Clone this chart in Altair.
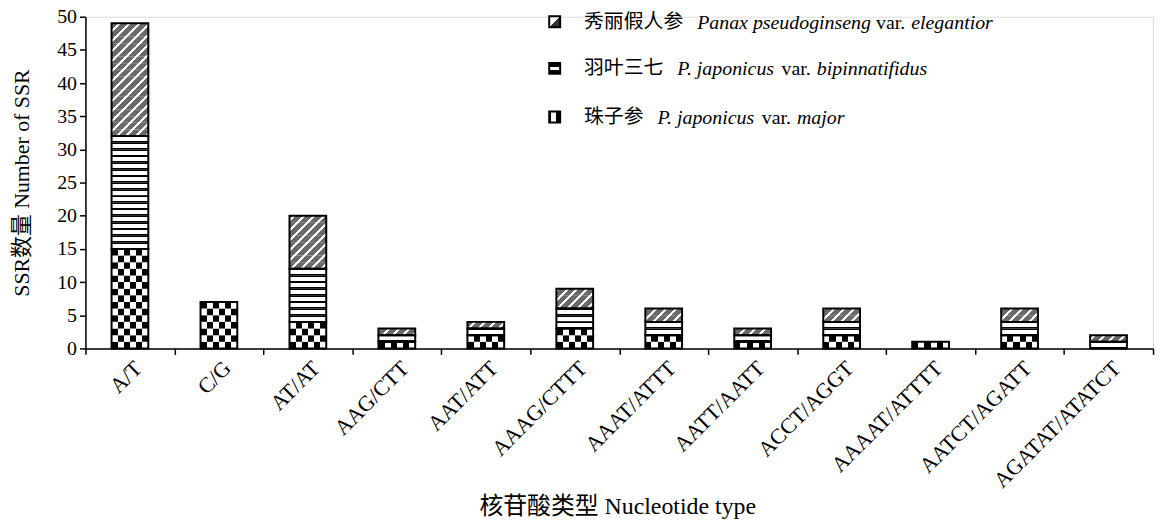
import altair as alt
import pandas as pd

# ---------------- data ----------------
categories = ["A/T", "C/G", "AT/AT", "AAG/CTT", "AAT/ATT", "AAAG/CTTT", "AAAT/ATTT",
              "AATT/AATT", "ACCT/AGGT", "AAAAT/ATTTT", "AATCT/AGATT", "AGATAT/ATATCT"]
zhuzishen = [15, 7, 4, 1, 2, 3, 2, 1, 2, 1, 2, 0]      # 珠子参 (bottom)
yuyesanqi = [17, 0, 8, 1, 1, 3, 2, 1, 2, 0, 2, 1]      # 羽叶三七 (middle)
xiulijiarenshen = [17, 0, 8, 1, 1, 3, 2, 1, 2, 0, 2, 1]  # 秀丽假人参 (top)
series_values = [zhuzishen, yuyesanqi, xiulijiarenshen]

# ---------------- layout constants ----------------
W, H = 1075, 334
YMAX = 50
BAND_FRAC = 0.413
FONT = "Liberation Serif, Noto Sans CJK SC"
CJK = "Noto Sans CJK SC"
GRAY = "#6a6a6a"

bar_w = BAND_FRAC * W / len(categories)
unit_h = H / YMAX

# ---------------- tables ----------------
seg_rows, unit_rows = [], []
for ci, cat in enumerate(categories):
    base = 0
    for si, vals in enumerate(series_values):
        v = vals[ci]
        if v > 0:
            seg_rows.append({"cat": cat, "s": si, "y0": base, "y1": base + v})
            for k in range(base, base + v):
                unit_rows.append({"cat": cat, "s": si, "y0": k, "y1": k + 1,
                                  "p2": k % 2, "p3": k % 3})
        base += v
seg_df = pd.DataFrame(seg_rows)
unit_df = pd.DataFrame(unit_rows)


# ---------------- pattern gradients ----------------
def stops_from(intervals):
    st = []
    for a, b, c in intervals:
        st.append({"offset": a, "color": c})
        st.append({"offset": b, "color": c})
    return st


def checker(par):
    n = 6
    iv = []
    for i in range(n):
        c = "#000000" if (i + par) % 2 == 0 else "#ffffff"
        iv.append((i / n, (i + 1) / n, c))
    return {"gradient": "linear", "x1": 0, "y1": 0, "x2": 1, "y2": 0, "stops": stops_from(iv)}


stripe = {"gradient": "linear", "x1": 0, "y1": 0, "x2": 0, "y2": 1,
          "stops": stops_from([(0, 0.2, "#000000"), (0.2, 0.8, "#ffffff"), (0.8, 1, "#000000")])}


def hatch(phase):
    w, h = bar_w, unit_h
    P = 1.5 * h
    s = (w + h) / (w * w + h * h)
    tper = P / (w + h)
    wfrac = 0.3
    bounds = {0.0, 1.0}
    n = -3
    while (n - phase) * tper < 1.2:
        for b in ((n - phase) * tper, (n + wfrac - phase) * tper):
            if 0 < b < 1:
                bounds.add(b)
        n += 1
    bl = sorted(bounds)
    iv = []
    for a, b in zip(bl[:-1], bl[1:]):
        m = (a + b) / 2
        f = m / tper + phase
        c = "#ffffff" if (f - int(f // 1)) < wfrac else GRAY
        iv.append((a, b, c))
    return {"gradient": "linear", "x1": 0, "y1": 0, "x2": s * w, "y2": s * h,
            "stops": stops_from(iv)}


hatch_phase = {0: 1 / 3, 1: 2 / 3, 2: 0.0}

# ---------------- encodings ----------------
x_enc = alt.X("cat:N", sort=categories, title="核苷酸类型  Nucleotide type",
              scale=alt.Scale(paddingInner=0, paddingOuter=0),
              axis=alt.Axis(tickBand="extent", labelAngle=315, labelAlign="right",
                            labelBaseline="middle", labelFont=FONT, labelFontSize=22,
                            labelColor="black", labelPadding=10, labelOffset=8,
                            labelOverlap=False, labelFlush=False, labelBound=False,
                            tickSize=6, tickWidth=1.5, tickColor="black",
                            domainColor="black", domainWidth=1.5,
                            titleFont=FONT, titleFontSize=24, titleFontWeight="normal",
                            titleColor="black", titleX=W / 2 - 2, titleY=159,
                            titleBaseline="middle", titleAlign="center"))
y_enc = alt.Y("y0:Q", scale=alt.Scale(domain=[0, YMAX], nice=False, zero=True),
              title="SSR数量  Number of SSR",
              axis=alt.Axis(values=list(range(0, 51, 5)), grid=False, tickSize=6,
                            tickWidth=1.5, tickColor="black", domainColor="black",
                            domainWidth=1.5, labelFont=FONT, labelFontSize=20,
                            labelColor="black", labelPadding=3,
                            titleFont=FONT, titleFontSize=22, titleFontWeight="normal",
                            titleColor="black", titleX=-64, titleY=H / 2,
                            titleAngle=270, titleBaseline="middle", titleAlign="center"))

bar_mark = dict(width=alt.RelativeBandSize(BAND_FRAC), strokeWidth=0)

checker_layer = alt.Chart(unit_df).transform_filter(alt.datum.s == 0).mark_bar(**bar_mark).encode(
    x=x_enc, y=y_enc, y2="y1:Q",
    fill=alt.when(alt.datum.p2 == 0).then(alt.value(checker(0))).otherwise(alt.value(checker(1))))

stripe_layer = alt.Chart(unit_df).transform_filter(alt.datum.s == 1).mark_bar(**bar_mark).encode(
    x=x_enc, y=y_enc, y2="y1:Q", fill=alt.value(stripe))

hatch_layer = alt.Chart(unit_df).transform_filter(alt.datum.s == 2).mark_bar(**bar_mark).encode(
    x=x_enc, y=y_enc, y2="y1:Q",
    fill=alt.when(alt.datum.p3 == 0).then(alt.value(hatch(hatch_phase[0])))
    .when(alt.datum.p3 == 1).then(alt.value(hatch(hatch_phase[1])))
    .otherwise(alt.value(hatch(hatch_phase[2]))))

outline_layer = alt.Chart(seg_df).mark_bar(width=alt.RelativeBandSize(BAND_FRAC), fillOpacity=0,
                                           stroke="black", strokeWidth=2).encode(
    x=x_enc, y=y_enc, y2="y1:Q")

# ---------------- legend ----------------
legend_names = ["秀丽假人参", "羽叶三七", "珠子参"]
legend_latin = [
    [("Panax pseudoginseng", "italic", 702), ("var.", "normal", 882), ("elegantior", "italic", 917.5)],
    [("P. japonicus", "italic", 682), ("var.", "normal", 787), ("bipinnatifidus", "italic", 822.5)],
    [("P. japonicus", "italic", 662), ("var.", "normal", 767), ("major", "italic", 802.5)],
]
legend_y = [20, 67, 116]
OX, OY = 86, 15

sw_fills = [
    {"gradient": "linear", "x1": 0, "y1": 0, "x2": 1, "y2": 1,
     "stops": stops_from([(0, 0.5, "#ffffff"), (0.5, 1, "#333333")])},
    {"gradient": "linear", "x1": 0, "y1": 0, "x2": 0, "y2": 1,
     "stops": stops_from([(0, 0.35, "#000000"), (0.35, 0.65, "#ffffff"), (0.65, 1, "#000000")])},
    {"gradient": "linear", "x1": 0, "y1": 0, "x2": 1, "y2": 0,
     "stops": stops_from([(0, 0.2, "#000000"), (0.2, 0.62, "#ffffff"), (0.62, 1, "#000000")])},
]

one = pd.DataFrame({"a": [0]})
legend_layers = []
for i in range(3):
    yc = legend_y[i] - OY
    legend_layers.append(
        alt.Chart(one).mark_rect(stroke="black", strokeWidth=2).encode(
            x=alt.value(553 - OX), x2=alt.value(564 - OX),
            y=alt.value(yc - 5.5), y2=alt.value(yc + 5.5), fill=alt.value(sw_fills[i])))
    legend_layers.append(
        alt.Chart(one).mark_text(text=legend_names[i], font=CJK, fontSize=20, align="left",
                                 baseline="middle", color="black").encode(
            x=alt.value(588 - OX), y=alt.value(yc)))
    for txt, style, px in legend_latin[i]:
        legend_layers.append(
            alt.Chart(one).mark_text(text=txt, font="Liberation Serif", fontSize=20,
                                     fontStyle=style, align="left", baseline="middle",
                                     color="black").encode(
                x=alt.value(px - OX), y=alt.value(yc + 1)))

chart = alt.layer(checker_layer, stripe_layer, hatch_layer, outline_layer, *legend_layers).properties(
    width=W, height=H,
    autosize=alt.AutoSizeParams(type="none"),
    padding={"left": 78, "top": 7, "right": 2, "bottom": 170},
).configure_view(stroke=None).configure(background="white")

chart.save("out.html", embed_options={"renderer": "svg", "actions": False})
